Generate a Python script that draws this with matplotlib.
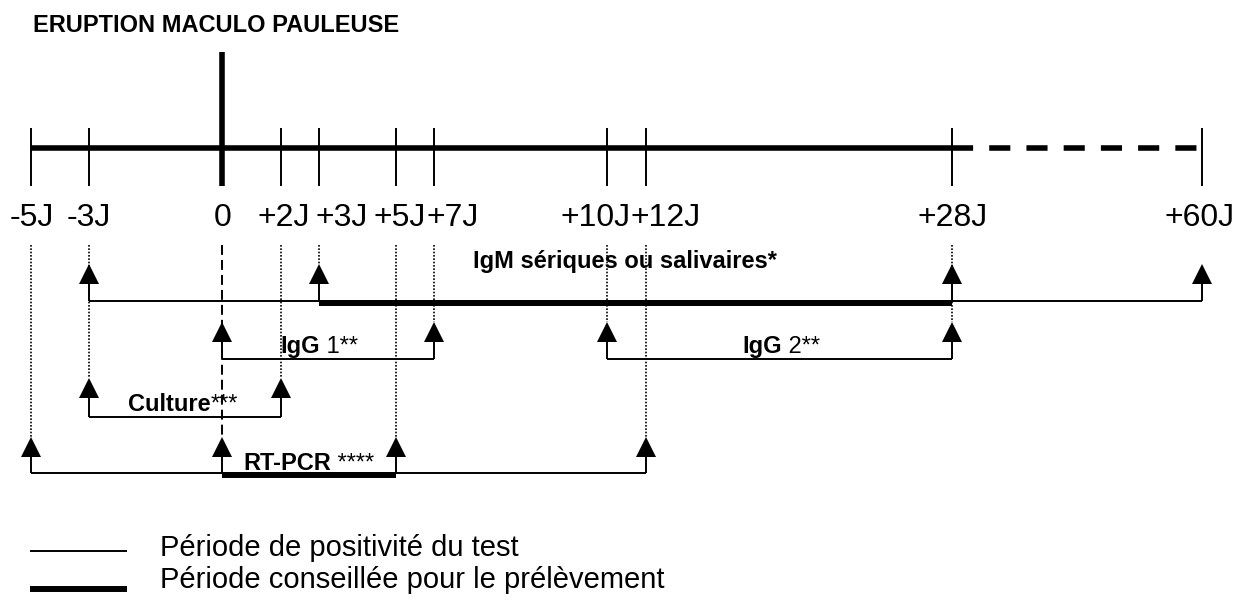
import numpy as np
import matplotlib
matplotlib.use("Agg")
import matplotlib.pyplot as plt

plt.rcParams['font.family'] = ['Liberation Sans', 'DejaVu Sans']

# day marks on the timeline (J = jour, 0 = eruption)
tick_days = [-5, -3, 0, 2, 3, 5, 7, 10, 12, 28, 60]
tick_labels = ["-5J", "-3J", "0", "+2J", "+3J", "+5J", "+7J", "+10J", "+12J", "+28J", "+60J"]
solid_until = 28  # timeline is dashed after +28J

# tests: period of positivity and advised sampling period (days)
tests = ["IgM", "IgG 1", "IgG 2", "Culture", "RT-PCR"]
positive_start = [-3, 0, 10, -3, -5]
positive_end = [60, 7, 28, 2, 12]
advised_start = [3, None, None, None, 0]
advised_end = [28, None, None, None, 5]

# label of each test : bold part + regular part
label_bold = ["IgM sériques ou salivaires*", "IgG", "IgG", "Culture", "RT-PCR"]
label_rest = ["", " 1**", " 2**", "***", " ****"]

title = "ERUPTION MACULO PAULEUSE"
legend_labels = ["Période de positivité du test", "Période conseillée pour le prélèvement"]

# ---- layout (pixels) ----
W, H = 1241, 601
scale_px = [31, 89, 222, 281, 319, 396, 434, 607, 646, 952, 1202]  # schematic spacing
tick_label_px = [32, 89, 223, 284, 342, 400, 453, 596, 666, 953, 1200]  # labels spread to avoid overlap
axis_y = 148
row_line_y = [301, 359, 359, 417, 473]
row_tip_y = [264, 322, 322, 378, 437]
label_pos = [(473, 268), (280, 353), (742, 353), (128, 411), (243, 470)]
guide_top = 245
thin, thick = 1.4, 4.3

fig = plt.figure(figsize=(W / 100, H / 100), dpi=100)

# layout axes in pixel units, for free text and legend
lay = fig.add_axes([0, 0, 1, 1])
lay.set_xlim(0, W)
lay.set_ylim(H, 0)
lay.axis('off')

# timeline axes: days through a schematic (piecewise) scale
ax = fig.add_axes([scale_px[0] / W, 0, (scale_px[-1] - scale_px[0]) / W, 1])
ax.set_xscale('function', functions=(lambda d: np.interp(d, tick_days, scale_px),
                                     lambda p: np.interp(p, scale_px, tick_days)))
ax.set_xlim(tick_days[0], tick_days[-1])
ax.set_ylim(H, 0)
ax.axis('off')
ax.patch.set_alpha(0)

# main time axis
ax.plot([tick_days[0], solid_until], [axis_y, axis_y], color='black', lw=4,
        solid_capstyle='butt', clip_on=False)
ax.plot([solid_until, tick_days[-1]], [axis_y, axis_y], color='black', lw=4,
        dashes=(3.8, 2.9), clip_on=False)

for d in tick_days:
    if d == 0:
        ax.plot([d, d], [52, 186], color='black', lw=4, solid_capstyle='butt', clip_on=False)
    else:
        ax.plot([d, d], [128, 186], color='black', lw=thin, solid_capstyle='butt', clip_on=False)

for x, lab in zip(tick_label_px, tick_labels):
    lay.text(x, 226, lab, ha='center', va='baseline', fontsize=23)

# arrows of every test
arrows = []
for i in range(len(tests)):
    days = [positive_start[i], positive_end[i]]
    if advised_start[i] is not None:
        days += [advised_start[i], advised_end[i]]
    for d in days:
        arrows.append((d, row_line_y[i], row_tip_y[i]))

# dotted guides from the day marks down to the lowest arrow (none for +60J)
for d in tick_days[:-1]:
    tips = [tip for (a, _, tip) in arrows if a == d]
    if not tips:
        continue
    if d == 0:
        ax.plot([d, d], [guide_top, max(tips)], color='black', lw=1.4,
                dashes=(5.1, 2.6), clip_on=False, zorder=1)
    else:
        ax.plot([d, d], [guide_top, max(tips)], color='black', lw=1.2,
                dashes=(1, 1), clip_on=False, zorder=1)

for i in range(len(tests)):
    y = row_line_y[i]
    ax.plot([positive_start[i], positive_end[i]], [y, y], color='black', lw=thin,
            solid_capstyle='butt', clip_on=False, zorder=2)
    if advised_start[i] is not None:
        ax.plot([advised_start[i], advised_end[i]], [y + 1.5, y + 1.5], color='black',
                lw=thick, solid_capstyle='butt', clip_on=False, zorder=2)

for d, y, tip in arrows:
    ax.plot([d, d], [y, tip + 18], color='black', lw=thin, solid_capstyle='butt',
            clip_on=False, zorder=3)
    ax.plot([d], [tip + 10], marker='^', ms=14.4, color='black', mew=0,
            clip_on=False, zorder=3)

# labels (bold part then regular part)
renderer = fig.canvas.get_renderer()
for (x, y), b, r in zip(label_pos, label_bold, label_rest):
    t = lay.text(x, y, b, fontsize=17, fontweight='bold', va='baseline', ha='left')
    if r:
        w = t.get_window_extent(renderer).width
        lay.text(x + w, y, r, fontsize=17, va='baseline', ha='left')

lay.text(33, 32, title, fontsize=17, fontweight='bold', va='baseline', ha='left')

# legend
lay.plot([30, 127], [551, 551], color='black', lw=thin, solid_capstyle='butt')
lay.plot([30, 127], [589, 589], color='black', lw=thick, solid_capstyle='butt')
lay.text(160, 556, legend_labels[0], fontsize=21, va='baseline', ha='left')
lay.text(160, 588, legend_labels[1], fontsize=21, va='baseline', ha='left')

fig.savefig('out.png', dpi=100)
